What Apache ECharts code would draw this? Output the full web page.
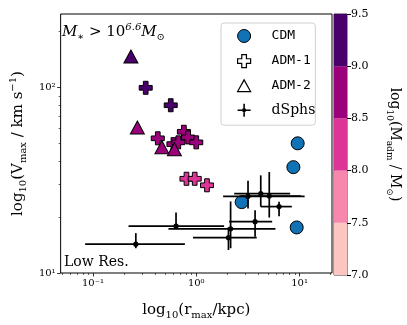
<!DOCTYPE html>
<html>
<head>
<meta charset="utf-8">
<script src="https://cdn.jsdelivr.net/npm/echarts@6/dist/echarts.min.js"></script>
<style>
  html, body { margin: 0; padding: 0; background: #fff; }
  #chart { width: 407px; height: 325px; }
</style>
</head>
<body>
<div id="chart"></div>
<script>
// CDM haloes (r_max in kpc, V_max in km/s)
const cdmR = [9.59, 8.71, 2.75, 9.38];
const cdmV = [50.0, 37.2, 24.1, 17.6];

// ADM-1 haloes, with log10(M_adm / Msun)
const adm1R = [0.324, 0.566, 0.424, 0.759, 0.834, 1.0, 0.601, 0.670, 0.804, 0.966, 1.27];
const adm1V = [99.6, 80.2, 53.2, 57.7, 53.8, 50.6, 49.5, 50.6, 32.2, 32.2, 29.7];
const adm1M = [9.2, 9.2, 8.7, 8.7, 8.7, 8.7, 8.7, 8.7, 8.2, 8.2, 8.2];

// ADM-2 haloes
const adm2R = [0.233, 0.269, 0.465, 0.614];
const adm2V = [146.9, 60.8, 47.6, 46.5];
const adm2M = [9.2, 8.7, 8.7, 8.7];

// dwarf spheroidals with error ranges
const dsphR   = [0.260, 0.637, 2.15, 2.05, 3.71, 3.17, 4.21, 5.09, 6.33];
const dsphRlo = [0.084, 0.221, 0.538, 0.93, 2.08, 1.82, 2.33, 2.78, 4.21];
const dsphRhi = [0.776, 1.86, 5.84, 3.85, 5.43, 11.2, 8.11, 10.3, 8.41];
const dsphV   = [14.3, 17.9, 17.3, 15.5, 18.9, 25.9, 26.8, 26.0, 22.8];
const dsphVlo = [13.6, 17.2, 13.6, 13.3, 15.7, 22.3, 22.8, 19.9, 20.2];
const dsphVhi = [16.4, 21.2, 24.3, 17.6, 21.8, 31.4, 33.6, 35.0, 24.2];

// colorbar bins
const cbEdges = [7.0, 7.5, 8.0, 8.5, 9.0, 9.5];
const cbColors = ['#fcc5c0', '#f887ae', '#dc3497', '#9c017c', '#4a006a'];

// axis ticks (log10 space)
const xMajor = [-1, 0, 1];
const xMinor = [0.05, 0.06, 0.07, 0.08, 0.09, 0.2, 0.3, 0.4, 0.5, 0.6, 0.7, 0.8, 0.9,
                2, 3, 4, 5, 6, 7, 8, 9, 20];
const yMajor = [1, 2];
const yMinor = [20, 30, 40, 50, 60, 70, 80, 90, 200];
const supers = { '-1': '⁻¹', '0': '⁰', '1': '¹', '2': '²' };

const lg = Math.log10;
const SERIF = 'DejaVu Serif';
const MONO = 'DejaVu Sans Mono';

const xMin = -1.313, xMax = 1.314, yMin = 1, yMax = 2.396;

const plusPath = 'path://M3.2,0H6.8V3.2H10V6.8H6.8V10H3.2V6.8H0V3.2H3.2Z';
const triPath = 'path://M5,0L10,9H0Z';
const errPath = 'path://M0,4.4H10V5.6H0Z M4.4,0H5.6V10H4.4Z M6.6,5A1.6,1.6 0 1 1 3.4,5A1.6,1.6 0 1 1 6.6,5Z';

const titleRich = {
  a: { fontFamily: SERIF, fontSize: 15, lineHeight: 20, color: '#000' },
  s: { fontFamily: SERIF, fontSize: 10, lineHeight: 11, verticalAlign: 'bottom', color: '#000' },
  p: { fontFamily: SERIF, fontSize: 10, lineHeight: 11, verticalAlign: 'top', color: '#000' }
};
const cbRich = {
  a: { fontFamily: SERIF, fontSize: 14, lineHeight: 19, color: '#000' },
  s: { fontFamily: SERIF, fontSize: 9, lineHeight: 10, verticalAlign: 'bottom', color: '#000' }
};

let myChart = echarts.init(document.getElementById('chart'), null, { renderer: 'canvas' });

const options = {
  animation: false,
  backgroundColor: '#fff',
  grid: [
    { left: 55, top: 14, width: 277, height: 261, show: true, borderColor: '#000', borderWidth: 1 },
    { left: 334, top: 14, width: 13, height: 261, show: true, borderColor: '#000', borderWidth: 0.8 }
  ],
  xAxis: [
    {
      gridIndex: 0, type: 'value', min: xMin, max: xMax, position: 'bottom',
      axisLine: { show: false, onZero: false },
      axisTick: { show: true, length: 3.5, customValues: xMajor, lineStyle: { color: '#000', width: 0.8 } },
      axisLabel: {
        customValues: xMajor, margin: 5, fontFamily: SERIF, fontSize: 10, color: '#000',
        formatter: v => '10' + supers[String(Math.round(v))]
      },
      splitLine: { show: false },
      name: '{a|log}{s|10}{a|(r}{s|max}{a|/kpc)}',
      nameLocation: 'middle', nameGap: 27,
      nameTextStyle: { rich: titleRich }
    },
    {
      gridIndex: 0, type: 'value', min: xMin, max: xMax, position: 'bottom',
      axisLine: { show: false, onZero: false },
      axisTick: { show: true, length: 2, customValues: xMinor.map(lg), lineStyle: { color: '#000', width: 0.6 } },
      axisLabel: { show: false },
      splitLine: { show: false }
    },
    { gridIndex: 1, type: 'value', min: 0, max: 1, show: false, axisLine: { onZero: false } }
  ],
  yAxis: [
    {
      gridIndex: 0, type: 'value', min: yMin, max: yMax, position: 'left',
      axisLine: { show: false, onZero: false },
      axisTick: { show: true, length: 3.5, customValues: yMajor, lineStyle: { color: '#000', width: 0.8 } },
      axisLabel: {
        customValues: yMajor, margin: 5, fontFamily: SERIF, fontSize: 10, color: '#000',
        formatter: v => '10' + supers[String(Math.round(v))]
      },
      splitLine: { show: false },
      name: '{a|log}{s|10}{a|(V}{s|max}{a| / km s}{p|−1}{a|)}',
      nameLocation: 'middle', nameGap: 27, nameRotate: 90,
      nameTextStyle: { rich: titleRich }
    },
    {
      gridIndex: 0, type: 'value', min: yMin, max: yMax, position: 'left',
      axisLine: { show: false, onZero: false },
      axisTick: { show: true, length: 2, customValues: yMinor.map(lg), lineStyle: { color: '#000', width: 0.6 } },
      axisLabel: { show: false },
      splitLine: { show: false }
    },
    {
      gridIndex: 1, type: 'value', min: 7, max: 9.5, interval: 0.5, position: 'right',
      axisLine: { show: false, onZero: false },
      axisTick: { show: true, length: 4, lineStyle: { color: '#000', width: 1 } },
      axisLabel: { margin: 4, fontFamily: SERIF, fontSize: 11, color: '#000', formatter: v => v.toFixed(1) },
      splitLine: { show: false },
      name: '{a|log}{s|10}{a|(M}{s|adm}{a| / M}{s|⊙}{a|)}',
      nameLocation: 'middle', nameGap: 38, nameRotate: -90,
      nameTextStyle: { rich: cbRich }
    }
  ],
  visualMap: {
    type: 'piecewise', show: false, seriesIndex: [1, 2], dimension: 2,
    pieces: cbColors.map((c, i) => ({ gte: cbEdges[i], lt: cbEdges[i + 1], color: c }))
  },
  legend: {
    orient: 'vertical', left: 221, top: 23,
    padding: [6, 0, 8, 16],
    itemWidth: 13, itemHeight: 13, itemGap: 11,
    backgroundColor: '#fff', borderColor: '#d0d0d0', borderWidth: 1, borderRadius: 3,
    formatter: name => '{g| }' + name,
    textStyle: { fontFamily: MONO, fontSize: 13, color: '#000', rich: { g: { width: 16 } } },
    data: [
      { name: 'CDM', icon: 'circle', itemStyle: { color: '#1173b5', borderColor: '#000', borderWidth: 1 } },
      { name: 'ADM-1', icon: plusPath, itemStyle: { color: '#fff', borderColor: '#000', borderWidth: 1.2 } },
      { name: 'ADM-2', icon: triPath, itemStyle: { color: '#fff', borderColor: '#000', borderWidth: 1.2 } },
      { name: 'dSphs', icon: errPath, itemStyle: { color: '#000', borderWidth: 0 },
        textStyle: { fontFamily: SERIF, fontSize: 14 } }
    ]
  },
  graphic: [
    {
      type: 'text', left: 62, top: 22,
      style: {
        text: '{i|M}{s|∗}{r| > 10}{p|6.6}{i|M}{s|⊙}',
        rich: {
          i: { fontFamily: SERIF, fontStyle: 'italic', fontSize: 15, lineHeight: 20, fill: '#000' },
          r: { fontFamily: SERIF, fontSize: 15, lineHeight: 20, fill: '#000' },
          s: { fontFamily: SERIF, fontSize: 10, lineHeight: 11, verticalAlign: 'bottom', fill: '#000' },
          p: { fontFamily: SERIF, fontStyle: 'italic', fontSize: 10, lineHeight: 11, verticalAlign: 'top', fill: '#000' }
        }
      }
    },
    {
      type: 'text', left: 64, top: 255,
      style: { text: 'Low Res.', font: '14px "DejaVu Serif"', fill: '#000' }
    }
  ],
  series: [
    {
      name: 'CDM', type: 'scatter', xAxisIndex: 0, yAxisIndex: 0,
      symbol: 'circle', symbolSize: 13,
      itemStyle: { color: '#1173b5', borderColor: '#000', borderWidth: 1, opacity: 1 },
      data: cdmR.map((r, i) => [lg(r), lg(cdmV[i])]),
      z: 2
    },
    {
      name: 'ADM-1', type: 'scatter', xAxisIndex: 0, yAxisIndex: 0,
      symbol: plusPath, symbolSize: 13,
      itemStyle: { borderColor: '#000', borderWidth: 1, opacity: 1 },
      data: adm1R.map((r, i) => [lg(r), lg(adm1V[i]), adm1M[i]]),
      z: 3
    },
    {
      name: 'ADM-2', type: 'scatter', xAxisIndex: 0, yAxisIndex: 0,
      symbol: 'triangle', symbolSize: [14, 13],
      itemStyle: { borderColor: '#000', borderWidth: 1, opacity: 1 },
      data: adm2R.map((r, i) => [lg(r), lg(adm2V[i]), adm2M[i]]),
      z: 4
    },
    {
      name: 'dSphs', type: 'custom', xAxisIndex: 0, yAxisIndex: 0,
      itemStyle: { color: '#000' },
      encode: { x: 0, y: 1 },
      data: dsphR.map((r, i) => [lg(r), lg(dsphV[i]), lg(dsphRlo[i]), lg(dsphRhi[i]), lg(dsphVlo[i]), lg(dsphVhi[i])]),
      renderItem: function (params, api) {
        const x = api.value(0), y = api.value(1);
        const c = api.coord([x, y]);
        const l = api.coord([api.value(2), y]);
        const r = api.coord([api.value(3), y]);
        const b = api.coord([x, api.value(4)]);
        const t = api.coord([x, api.value(5)]);
        const st = { stroke: '#000', lineWidth: 1.7 };
        return {
          type: 'group',
          children: [
            { type: 'line', shape: { x1: l[0], y1: l[1], x2: r[0], y2: r[1] }, style: st },
            { type: 'line', shape: { x1: t[0], y1: t[1], x2: b[0], y2: b[1] }, style: st },
            { type: 'circle', shape: { cx: c[0], cy: c[1], r: 2.6 }, style: { fill: '#000' } }
          ]
        };
      },
      z: 5
    },
    {
      name: 'cbar', type: 'custom', xAxisIndex: 2, yAxisIndex: 2,
      data: cbColors.map((c, i) => [cbEdges[i], cbEdges[i + 1], i]),
      renderItem: function (params, api) {
        const lo = api.coord([0, api.value(0)]);
        const hi = api.coord([1, api.value(1)]);
        return {
          type: 'rect',
          shape: { x: lo[0], y: hi[1], width: hi[0] - lo[0], height: lo[1] - hi[1] },
          style: { fill: cbColors[api.value(2)] }
        };
      },
      z: 1
    }
  ]
};

myChart.setOption(options);
</script>
</body>
</html>
